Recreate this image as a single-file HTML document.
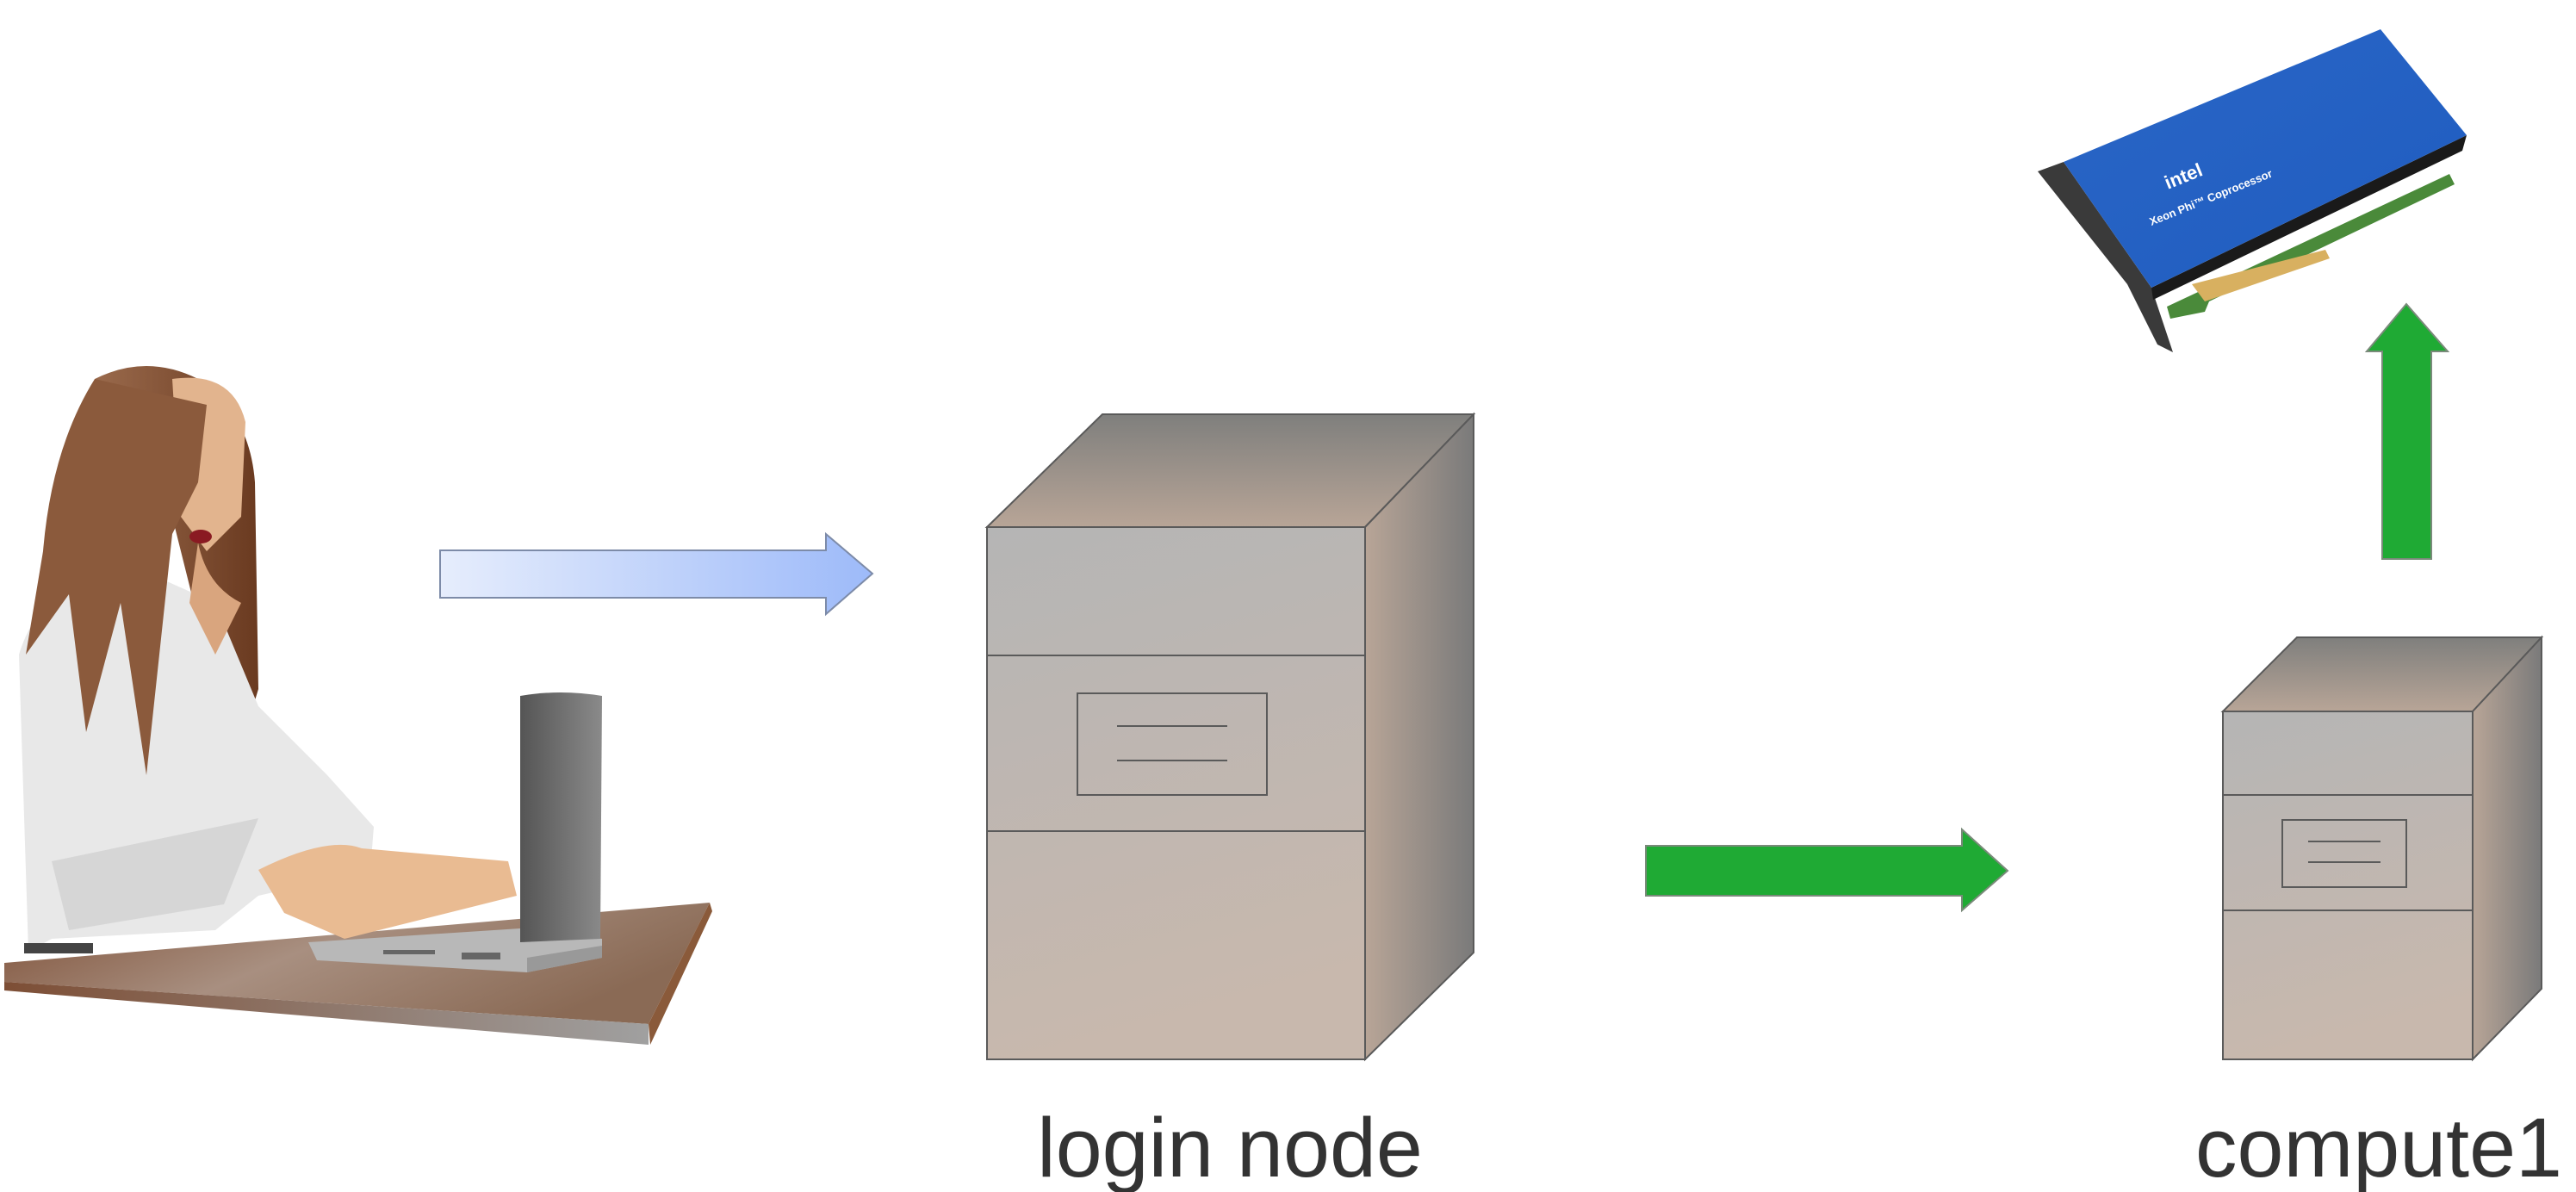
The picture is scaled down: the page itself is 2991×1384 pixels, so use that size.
<!DOCTYPE html>
<html><head><meta charset="utf-8"><style>
html,body{margin:0;padding:0;background:#fff;}
svg{display:block;}
</style></head><body>
<svg width="2991" height="1384" viewBox="0 0 2991 1384" xmlns="http://www.w3.org/2000/svg">
<defs>
<linearGradient id="topg" x1="0" y1="0" x2="0" y2="1"><stop offset="0" stop-color="#7f7f7d"/><stop offset="1" stop-color="#b8a597"/></linearGradient>
<linearGradient id="sideg" x1="0" y1="0" x2="1" y2="0"><stop offset="0" stop-color="#b8a597"/><stop offset="1" stop-color="#7a7a7a"/></linearGradient>
<linearGradient id="frontg" x1="0" y1="0" x2="0.2" y2="1"><stop offset="0" stop-color="#b5b5b5"/><stop offset="1" stop-color="#c8b8ad"/></linearGradient>
<linearGradient id="blueg" x1="0" y1="0" x2="1" y2="0"><stop offset="0" stop-color="#e6edfc"/><stop offset="1" stop-color="#9dbaf9"/></linearGradient>
<linearGradient id="tableg" x1="0" y1="0" x2="1" y2="0.4"><stop offset="0" stop-color="#7d4e35"/><stop offset="0.5" stop-color="#a88f80"/><stop offset="1" stop-color="#8a6a55"/></linearGradient>
<linearGradient id="edgeg" x1="0" y1="0" x2="1" y2="0"><stop offset="0" stop-color="#7d4e35"/><stop offset="1" stop-color="#a0a0a0"/></linearGradient>
<linearGradient id="hairg" x1="0" y1="0" x2="1" y2="0"><stop offset="0" stop-color="#9a6a4c"/><stop offset="1" stop-color="#6a3a20"/></linearGradient>
<linearGradient id="cardg" x1="0" y1="0" x2="1" y2="1"><stop offset="0" stop-color="#2a66c6"/><stop offset="1" stop-color="#1f5cc0"/></linearGradient>
<linearGradient id="scrg" x1="0" y1="0" x2="1" y2="0"><stop offset="0" stop-color="#555"/><stop offset="1" stop-color="#8a8a8a"/></linearGradient>
</defs>

<!-- Table -->
<polygon points="5,1118 824,1048 753,1189 5,1140" fill="url(#tableg)"/>
<polygon points="5,1140 753,1189 753,1213 5,1150" fill="url(#edgeg)"/>
<polygon points="824,1048 827,1058 755,1213 753,1189" fill="#8a5a3a"/>

<!-- Woman -->
<path d="M110,440 Q170,410 230,440 Q290,480 296,560 L300,800 L270,900 L240,760 L200,600 Z" fill="url(#hairg)"/>
<path d="M22,760 Q40,700 90,680 L160,660 L250,700 L300,820 L380,900 L434,960 L430,1010 L300,1040 L250,1080 L60,1090 L33,1105 Z" fill="#e8e8e8"/>
<path d="M60,1000 L300,950 L260,1050 L80,1080 Z" fill="#d6d6d6"/>
<path d="M200,440 Q270,430 285,490 L280,600 L240,640 L210,600 Z" fill="#e2b48e"/>
<path d="M230,630 Q240,680 280,700 L250,760 L220,700 Z" fill="#d9a57e"/>
<path d="M110,440 Q60,520 50,640 L30,760 L80,690 L100,850 L140,700 L170,900 L200,620 L230,560 L240,470 Z" fill="#8b5a3c"/>
<path d="M300,1010 Q380,970 420,985 L590,1000 L600,1040 L480,1070 L400,1090 L330,1060 Z" fill="#e9bb92"/>
<ellipse cx="233" cy="623" rx="13" ry="8" fill="#8a1a22"/>
<rect x="28" y="1095" width="80" height="12" fill="#444"/>

<!-- Laptop -->
<polygon points="358,1094 604,1078 699,1090 699,1112 612,1129 368,1115" fill="#b8b8b8"/>
<polygon points="612,1112 699,1098 699,1112 612,1129" fill="#999"/>
<rect x="445" y="1103" width="60" height="5" fill="#666"/>
<rect x="536" y="1106" width="45" height="8" fill="#666"/>
<path d="M604,808 Q650,800 699,808 L697,1090 L604,1094 Z" fill="url(#scrg)"/>

<!-- Blue arrow -->
<polygon points="511,639 959,639 959,620 1013,666 959,713 959,694 511,694" fill="url(#blueg)" stroke="#7d8ba8" stroke-width="2"/>

<!-- Login node -->
<g stroke="#5a5a5a" stroke-width="2">
<polygon points="1146,612 1280,481 1711,481 1585,612" fill="url(#topg)"/>
<polygon points="1585,612 1711,481 1711,1106 1585,1230" fill="url(#sideg)"/>
<rect x="1146" y="612" width="439" height="618" fill="url(#frontg)"/>
<line x1="1146" y1="761" x2="1585" y2="761"/>
<line x1="1146" y1="965" x2="1585" y2="965"/>
<rect x="1251" y="805" width="220" height="118" fill="none"/>
<line x1="1297" y1="843" x2="1425" y2="843"/>
<line x1="1297" y1="883" x2="1425" y2="883"/>
</g>

<!-- Green horizontal arrow -->
<polygon points="1911,982 2278,982 2278,963 2331,1011 2278,1057 2278,1040 1911,1040" fill="#1faa34" stroke="#7a8a7a" stroke-width="2"/>

<!-- Compute1 -->
<g stroke="#5a5a5a" stroke-width="2">
<polygon points="2581,826 2667,740 2951,740 2871,826" fill="url(#topg)"/>
<polygon points="2871,826 2951,740 2951,1148 2871,1230" fill="url(#sideg)"/>
<rect x="2581" y="826" width="290" height="404" fill="url(#frontg)"/>
<line x1="2581" y1="923" x2="2871" y2="923"/>
<line x1="2581" y1="1057" x2="2871" y2="1057"/>
<rect x="2650" y="952" width="144" height="78" fill="none"/>
<line x1="2680" y1="977" x2="2764" y2="977"/>
<line x1="2680" y1="1001" x2="2764" y2="1001"/>
</g>

<!-- Green vertical arrow -->
<polygon points="2766,649 2766,408 2748,408 2794,353 2842,408 2823,408 2823,649" fill="#1faa34" stroke="#7a8a7a" stroke-width="2"/>

<!-- Xeon Phi card -->
<polygon points="2516,356 2844,202 2850,214 2565,350 2560,362 2520,370" fill="#4a8a3a"/>
<polygon points="2545,330 2700,290 2705,300 2560,350" fill="#d8b060"/>
<polygon points="2366,199 2396,188 2498,334 2523,409 2505,400 2470,330" fill="#3a3a3a"/>
<polygon points="2498,334 2864,157 2859,175 2500,348" fill="#1a1a1a"/>
<polygon points="2396,188 2764,34 2864,157 2498,334" fill="url(#cardg)"/>
<text x="0" y="0" transform="translate(2517,220) rotate(-22)" font-family="Liberation Sans, sans-serif" font-size="22" font-weight="bold" fill="#fff">intel</text>
<text x="0" y="0" transform="translate(2498,262) rotate(-22)" font-family="Liberation Sans, sans-serif" font-size="13" font-weight="bold" fill="#fff">Xeon Phi™ Coprocessor</text>

<!-- Labels -->
<text x="1428" y="1366" text-anchor="middle" font-family="Liberation Sans, sans-serif" font-size="97" fill="#333">login node</text>
<text x="2762" y="1366" text-anchor="middle" font-family="Liberation Sans, sans-serif" font-size="97" fill="#333">compute1</text>
</svg>
</body></html>
